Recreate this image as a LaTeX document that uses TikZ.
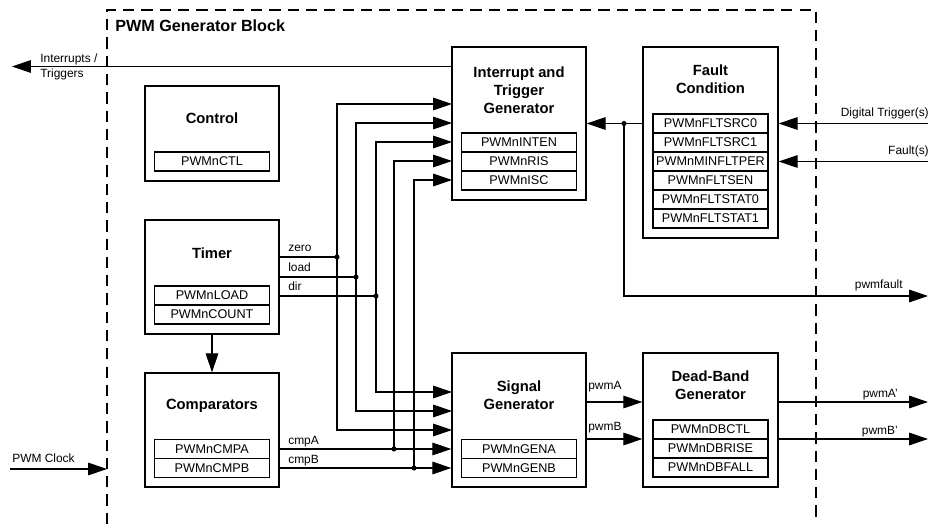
\documentclass[tikz,border=0pt]{standalone}
\usepackage{fontspec}
\setmainfont{Liberation Sans}
\usetikzlibrary{arrows.meta,positioning}
\def\pxu{0.025cm}
\tikzset{
  blk/.style={draw, line width=1pt, minimum width=134*\pxu, inner sep=0pt},
  reg/.style={draw, line width=0.8pt, minimum width=115*\pxu, minimum height=19*\pxu,
    inner sep=0pt, outer sep=0pt, font=\fontsize{9}{10}\selectfont},
  ttl/.style={font=\fontsize{10.5}{12.8}\selectfont\bfseries, align=center, inner sep=0pt},
  sig/.style={line width=0.8pt, -{Triangle[length=13.5pt,width=9pt]}},
  wire/.style={line width=0.8pt},
  lbl/.style={font=\fontsize{8.5}{10.6}\selectfont, inner sep=0pt},
}
\begin{document}
\begin{tikzpicture}[x=\pxu, y=-\pxu]
\useasboundingbox (0,0) rectangle (928,524);

% generator block outline
\draw[line width=0.8pt, dash pattern=on 8pt off 5pt]
  (107,524) -- (107,10) coordinate (bnw) -- (816,10) -- (816,524);
\node[anchor=west, inner sep=0pt, font=\fontsize{11.5}{14}\selectfont\bfseries] (title) at (115,26) {PWM Generator Block};

% control
\node[blk, minimum height=95*\pxu] (ctrl) at (212,133.5) {};
\node[ttl] (ctrl-t) at (212,118) {Control};
\node[reg] (ctrl-r1) at (212,161.5) {PWMnCTL};

% timer
\node[blk, minimum height=114*\pxu] (tmr) at (212,277) {};
\node[ttl] (tmr-t) at (212,253) {Timer};
\node[reg] (tmr-r1) at (212,295.5) {PWMnLOAD};
\node[reg, below=0pt of tmr-r1] (tmr-r2) {PWMnCOUNT};

% comparators
\node[blk, minimum height=114*\pxu] (cmp) at (212,430) {};
\node[ttl] (cmp-t) at (212,406) {Comparators};
\node[reg] (cmp-r1) at (212,449) {PWMnCMPA};
\node[reg, below=0pt of cmp-r1] (cmp-r2) {PWMnCMPB};

% interrupt and trigger generator
\node[blk, minimum height=153*\pxu] (intg) at (519,123.5) {};
\node[ttl] (intg-t) at (519,90) {Interrupt and\\Trigger\\Generator};
\node[reg] (intg-r1) at (519,142.5) {PWMnINTEN};
\node[reg, below=0pt of intg-r1] (intg-r2) {PWMnRIS};
\node[reg, below=0pt of intg-r2] (intg-r3) {PWMnISC};

% signal generator
\node[blk, minimum height=134*\pxu] (sig) at (519,420) {};
\node[ttl] (sig-t) at (519,395.5) {Signal\\Generator};
\node[reg] (sig-r1) at (519,449) {PWMnGENA};
\node[reg, below=0pt of sig-r1] (sig-r2) {PWMnGENB};

% fault condition
\node[blk, minimum width=135*\pxu, minimum height=191*\pxu] (flt) at (710.5,142.5) {};
\node[ttl] (flt-t) at (710.5,79) {Fault\\Condition};
\node[reg] (flt-r1) at (710.5,123.5) {PWMnFLTSRC0};
\node[reg, below=0pt of flt-r1] (flt-r2) {PWMnFLTSRC1};
\node[reg, below=0pt of flt-r2] (flt-r3) {PWMnMINFLTPER};
\node[reg, below=0pt of flt-r3] (flt-r4) {PWMnFLTSEN};
\node[reg, below=0pt of flt-r4] (flt-r5) {PWMnFLTSTAT0};
\node[reg, below=0pt of flt-r5] (flt-r6) {PWMnFLTSTAT1};

% dead-band generator
\node[blk, minimum width=135*\pxu, minimum height=134*\pxu] (db) at (710.5,420) {};
\node[ttl] (db-t) at (710.5,385.5) {Dead-Band\\Generator};
\node[reg] (db-r1) at (710.5,429.5) {PWMnDBCTL};
\node[reg, below=0pt of db-r1] (db-r2) {PWMnDBRISE};
\node[reg, below=0pt of db-r2] (db-r3) {PWMnDBFALL};

% free ends and junctions
\coordinate (irq) at (12,66.5);
\coordinate (clk) at (10,469);
\coordinate (dtr) at (928,123.5);
\coordinate (fin) at (928,161.5);
\coordinate (pf) at (928,296);
\coordinate (oa) at (928,402);
\coordinate (ob) at (928,439);
\coordinate (jz) at (337,257);
\coordinate (jl) at (356,277);
\coordinate (jd) at (376,296);
\coordinate (ja) at (394,449);
\coordinate (jb) at (414,468);
\coordinate (jf) at (624,123.5);
\coordinate (i1) at (452,104);
\coordinate (i2) at (452,123);
\coordinate (i3) at (452,142);
\coordinate (i4) at (452,161);
\coordinate (i5) at (452,180);
\coordinate (s1) at (452,392);
\coordinate (s2) at (452,411);
\coordinate (s3) at (452,430);

% outside signals
\draw[sig] (intg.west |- irq) -- (irq);
\node[lbl, anchor=west, align=left] (irq-l) at (40,66.5) {Interrupts /\\Triggers};
\draw[sig] (clk) -- (bnw |- clk);
\node[lbl, anchor=base west] (clk-l) at (12,462) {PWM Clock};
\draw[sig] (dtr) -- (flt.east |- dtr);
\node[lbl, anchor=base east] (dtr-l) at (929,117) {Digital Trigger(s)};
\draw[sig] (fin) -- (flt.east |- fin);
\node[lbl, anchor=base east] (fin-l) at (929,155) {Fault(s)};

% timer outputs and buses
\draw[sig] (tmr) -- (cmp);
\draw[wire] (tmr.east |- jz) -- (jz);
\draw[wire] (tmr.east |- jl) -- (jl);
\draw[wire] (tmr.east |- jd) -- (jd);
\node[lbl, anchor=base west] (zero-l) at (288,252) {zero};
\node[lbl, anchor=base west] (load-l) at (288,272) {load};
\node[lbl, anchor=base west] (dir-l) at (288,291) {dir};
\draw[sig] (jz) |- (i1);
\draw[sig] (jz) |- (s3);
\draw[sig] (jl) |- (i2);
\draw[sig] (jl) |- (s2);
\draw[sig] (jd) |- (i3);
\draw[sig] (jd) |- (s1);

% comparator outputs
\draw[sig] (cmp.east |- ja) -- (sig.west |- ja);
\draw[sig] (cmp.east |- jb) -- (sig.west |- jb);
\node[lbl, anchor=base west] (cmpa-l) at (288,444) {cmpA};
\node[lbl, anchor=base west] (cmpb-l) at (288,463) {cmpB};
\draw[sig] (ja) |- (i4);
\draw[sig] (jb) |- (i5);

% fault path
\draw[sig] (flt.west |- jf) -- (intg.east |- jf);
\draw[sig] (jf) |- (pf);
\node[lbl, anchor=base east] (pf-l) at (903,289) {pwmfault};

% pwm outputs
\draw[sig] (sig.east |- oa) -- (db.west |- oa);
\draw[sig] (sig.east |- ob) -- (db.west |- ob);
\node[lbl, anchor=base west] (pa-l) at (588,390) {pwmA};
\node[lbl, anchor=base west] (pb-l) at (588,430) {pwmB};
\draw[sig] (db.east |- oa) -- (oa);
\draw[sig] (db.east |- ob) -- (ob);
\node[lbl, anchor=base east] (oa-l) at (898,397) {pwmA'};
\node[lbl, anchor=base east] (ob-l) at (898,434) {pwmB'};

\foreach \j in {jz,jl,jd,ja,jb,jf}
  \fill (\j) circle[radius=1.8pt];
\end{tikzpicture}
\end{document}
